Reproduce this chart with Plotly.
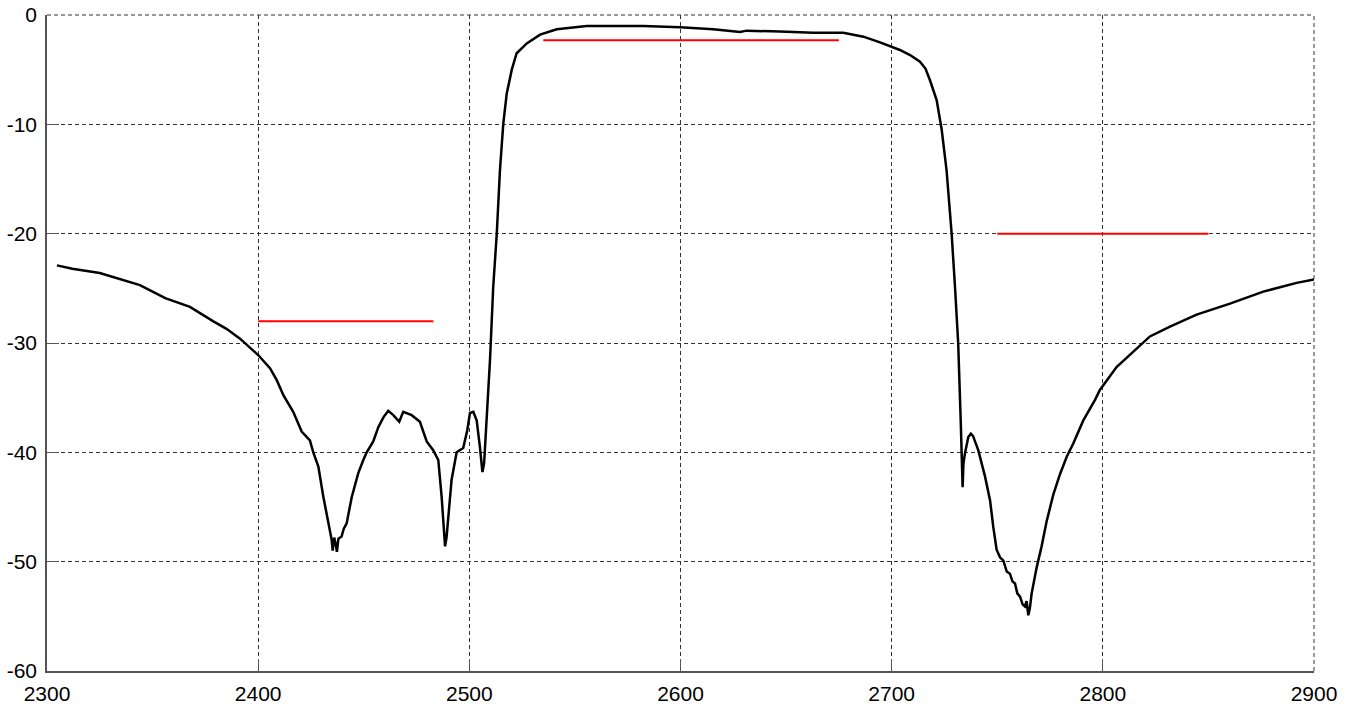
import plotly.graph_objects as go

# Measured transmission (MHz, dB)
freq = [2304.7, 2312, 2325, 2344, 2356, 2367.7, 2378.6, 2385, 2391.4, 2400, 2405.6, 2408.8, 2412,
        2416.6, 2420.6, 2424.5, 2426.1, 2428.5, 2430.9, 2433.2, 2434.8, 2435.3, 2436.0, 2436.6,
        2437.3, 2438.0, 2439.5, 2440.5, 2441.9, 2444.3, 2447.4, 2449.8, 2451.4, 2454.5, 2456.9,
        2459.3, 2461.6, 2464, 2466.8, 2468.7, 2472.7, 2476.6, 2478.5, 2479.8, 2482.9, 2485.3,
        2486.9, 2488.0, 2488.5, 2489.2, 2490.0, 2491.6, 2494.0, 2497.1, 2499.0, 2500.3, 2501.9,
        2503.5, 2505.0, 2506.2, 2507.0, 2508.2, 2509.8, 2511.3, 2513.0, 2514.5, 2516.1, 2517.7,
        2520.1, 2522.4, 2527.2, 2533.5, 2541.4, 2555.6, 2570, 2582.4, 2599.8, 2615.5, 2628.2,
        2631.3, 2647.1, 2662.9, 2677.1, 2686.6, 2694.5, 2699.2, 2703.9, 2708.7, 2713.4, 2716,
        2718.1, 2721.3, 2723.7, 2726.0, 2728.4, 2730.0, 2731.5, 2732.7, 2733.3, 2733.6, 2734.0,
        2734.7, 2736.3, 2737.5, 2738.5, 2740.3, 2741.0, 2744.2, 2746.6, 2748.1, 2749.7, 2751.3,
        2752.9, 2754.5, 2756.0, 2757.2, 2758.4, 2759.5, 2760.8, 2762.0, 2763.1, 2763.9, 2764.7,
        2765.4, 2766.3, 2768.7, 2771.0, 2773.4, 2776.5, 2779.7, 2782.9, 2786.0, 2790.7, 2796.3,
        2798.6, 2806.5, 2812.8, 2822.3, 2831.8, 2844.4, 2860.2, 2876.0, 2891.8, 2900]
s21 = [-22.9, -23.2, -23.6, -24.7, -25.9, -26.7, -28.0, -28.7, -29.6, -31.1, -32.3, -33.4, -34.8,
       -36.3, -38.1, -38.9, -40.0, -41.3, -44.1, -46.5, -48.0, -49.0, -47.8, -48.3,
       -49.1, -47.9, -47.7, -47.0, -46.5, -44.1, -41.9, -40.7, -40.0, -39.0, -37.7,
       -36.8, -36.2, -36.6, -37.2, -36.3, -36.6, -37.2, -38.4, -39.0, -39.8, -40.7,
       -44.1, -47.5, -48.6, -47.8, -46.2, -42.5, -40.0, -39.6, -38.0, -36.4, -36.3,
       -37.1, -39.5, -41.8, -41.0, -37.1, -31.5, -24.9, -20.0, -14.2, -9.9, -7.2,
       -5.0, -3.5, -2.6, -1.8, -1.3, -1.0, -0.97, -1.0, -1.13, -1.31, -1.55,
       -1.43, -1.52, -1.62, -1.62, -1.98, -2.5, -2.84, -3.2, -3.66, -4.27, -4.9,
       -5.95, -7.78, -10.5, -14.2, -20.0, -24.9, -30.0, -37.1, -41.5, -43.2, -41.0,
       -40.1, -38.6, -38.3, -38.5, -39.5, -39.8, -42.2, -44.4, -46.8, -48.9, -49.6,
       -49.9, -50.9, -51.1, -51.8, -52.0, -52.9, -53.2, -53.9, -54.1, -53.6, -54.9,
       -54.3, -52.9, -50.5, -48.6, -46.3, -43.9, -42.0, -40.4, -39.2, -37.1, -35.2,
       -34.3, -32.2, -31.1, -29.4, -28.5, -27.4, -26.4, -25.3, -24.5, -24.2]

# Specification masks (start MHz, end MHz, level dB)
mask_start = [2400, 2535, 2750]
mask_end = [2483, 2675, 2850]
mask_level = [-28, -2.3, -20]

x_ticks = [2300, 2400, 2500, 2600, 2700, 2800, 2900]
y_ticks = [0, -10, -20, -30, -40, -50, -60]

GRID = "#333333"
DASH = "4px,3px"

fig = go.Figure()
fig.add_trace(go.Scatter(x=freq, y=s21, mode="lines",
                         line=dict(color="black", width=2.5), showlegend=False))
for a, b, lv in zip(mask_start, mask_end, mask_level):
    fig.add_trace(go.Scatter(x=[a, b], y=[lv, lv], mode="lines",
                             line=dict(color="#ff0000", width=2), showlegend=False))

axis_common = dict(
    showgrid=True, gridcolor=GRID, gridwidth=1, griddash=DASH,
    zeroline=False, showline=True, linecolor="#555555", linewidth=1.5, mirror=False,
    ticks="inside", ticklen=12, tickcolor="#555555", tickwidth=1,
    tickfont=dict(family="Liberation Sans, Arial", size=21, color="black"),
    automargin=False,
)
fig.update_xaxes(range=[2300, 2900], tickvals=x_ticks, ticktext=[str(v) for v in x_ticks],
                 ticklabelstandoff=3, **axis_common)
fig.update_yaxes(range=[-60, 0], tickvals=y_ticks, ticktext=[str(v) for v in y_ticks],
                 ticklabelstandoff=4, **axis_common)

# dashed grid lines on the top and right edges of the plot box
fig.add_shape(type="line", xref="paper", yref="paper", x0=0, x1=1, y0=1, y1=1,
              line=dict(color=GRID, width=1, dash=DASH), layer="below")
fig.add_shape(type="line", xref="paper", yref="paper", x0=1, x1=1, y0=0, y1=1,
              line=dict(color=GRID, width=1, dash=DASH), layer="below")

fig.update_layout(width=1356, height=704,
                  margin=dict(l=47, r=42, t=15, b=33),
                  plot_bgcolor="white", paper_bgcolor="white")

fig.write_html("out.html", config={"displayModeBar": False},
               post_script="document.body.style.margin='0';")
